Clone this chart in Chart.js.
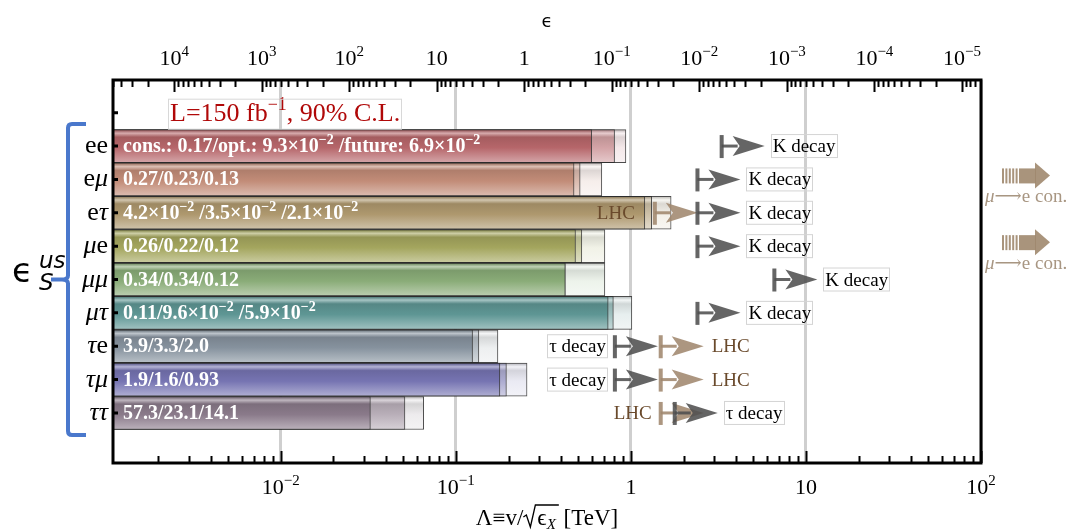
<!DOCTYPE html>
<html>
<head>
<meta charset="utf-8">
<script src="https://cdn.jsdelivr.net/npm/chart.js@4.4.1/dist/chart.umd.min.js"></script>
<style>
  html, body { margin: 0; padding: 0; background: #fff; }
  canvas { display: block; }
</style>
</head>
<body>
<canvas id="chart" width="1072" height="532"></canvas>
<script>
// electroweak vev in TeV, used for Lambda = v / sqrt(eps)
const V_EW = 0.246;

const categories = ['ee', 'eμ', 'eτ', 'μe', 'μμ', 'μτ', 'τe', 'τμ', 'ττ'];
// epsilon limits: conservative / optimistic / future
const consEps = [0.17, 0.27, 0.042, 0.26, 0.34, 0.11, 3.9, 1.9, 57.3];
const optEps = [0.093, 0.23, 0.035, 0.22, 0.34, 0.096, 3.3, 1.6, 23.1];
const futureEps = [0.069, 0.13, 0.021, 0.12, 0.12, 0.059, 2.0, 0.93, 14.1];

const rowColors = [
    [182, 102, 106], [194, 140, 120], [174, 152, 110], [164, 166, 94], [138, 172, 120],
    [94, 150, 148], [134, 146, 158], [118, 116, 178], [138, 122, 138]
];

// other limits (Lambda in TeV), one entry per arrow
const annRows = [1, 2, 3, 3, 4, 5, 6, 7, 7, 8, 8, 9, 9];
const annValues = [3.3, 2.4, 1.37, 2.4, 2.4, 6.6, 2.4, 0.81, 1.48, 0.81, 1.48, 1.48, 1.78];
const annTypes = ['K', 'K', 'LHC', 'K', 'K', 'K', 'K', 'tau', 'LHC', 'tau', 'LHC', 'LHC', 'tau'];
const annSides = ['right', 'right', 'left', 'right', 'right', 'right', 'right', 'left', 'right', 'left', 'right', 'left', 'right'];
const muToERows = [2, 4];

const xTicks = [0.01, 0.1, 1, 10, 100];
const xTickLabels = ['10^{−2}', '10^{−1}', '1', '10', '10^{2}'];
const epsTicks = [1e4, 1e3, 1e2, 10, 1, 0.1, 0.01, 1e-3, 1e-4, 1e-5];
const epsTickLabels = ['10^{4}', '10^{3}', '10^{2}', '10', '1', '10^{−1}', '10^{−2}', '10^{−3}', '10^{−4}', '10^{−5}'];

const X_MIN = 0.0011, X_MAX = 100;
const SERIF = "'Liberation Serif', 'DejaVu Serif', serif";

const toLambda = eps => V_EW / Math.sqrt(eps);

function mix(c, t) {
    return c.map(v => Math.round(v + (255 - v) * t));
}
function shade(c, f) {
    return c.map(v => Math.round(v * f));
}
function rgb(c) {
    return 'rgb(' + c.join(',') + ')';
}

function fmtEps(v) {
    if (v < 0.1) return (v * 100).toFixed(1) + '×10^{−2}';
    if (v >= 1) return v.toFixed(1);
    return v.toPrecision(2);
}

// vertical glossy gradient for one bar row
function barFill(kind) {
    return function (ctx) {
        const chart = ctx.chart;
        if (ctx.type !== 'data') return '#ccc';
        const i = ctx.dataIndex;
        let base = rowColors[i];
        if (kind === 'opt') base = mix(base, 0.4);
        if (kind === 'future') base = mix(base, 0.85);
        const ys = chart.scales.y;
        const py = ys ? ys.getPixelForValue(i + 1) : NaN;
        if (!isFinite(py)) return rgb(base);
        const g = chart.ctx.createLinearGradient(0, py - 16, 0, py + 16);
        g.addColorStop(0, rgb(shade(base, 0.8)));
        g.addColorStop(0.1, rgb(mix(base, 0.45)));
        g.addColorStop(0.22, rgb(shade(base, 0.9)));
        g.addColorStop(0.55, rgb(base));
        g.addColorStop(1, rgb(mix(base, 0.4)));
        return g;
    };
}

function makeData(arr) {
    return arr.map((e, i) => ({ x: [X_MIN, toLambda(e)], y: i + 1 }));
}

// text with ^{..} and _{..} pieces
function drawRich(ctx, str, x, y, o) {
    const parts = str.split(/(\^\{[^}]*\}|_\{[^}]*\})/).filter(s => s.length);
    const segs = parts.map(p => {
        if (p.startsWith('^{')) return { t: p.slice(2, -1), sc: 0.68, dy: -0.4 };
        if (p.startsWith('_{')) return { t: p.slice(2, -1), sc: 0.68, dy: 0.22 };
        return { t: p, sc: 1, dy: 0 };
    });
    const font = sc => (o.style || '') + ' ' + (o.weight || 'normal') + ' ' + Math.round(o.size * sc) + 'px ' + (o.family || SERIF);
    let w = 0;
    segs.forEach(s => { ctx.font = font(s.sc); s.w = ctx.measureText(s.t).width; w += s.w; });
    let cx = o.align === 'right' ? x - w : (o.align === 'center' ? x - w / 2 : x);
    const x0 = cx;
    ctx.textAlign = 'left';
    ctx.textBaseline = 'alphabetic';
    ctx.fillStyle = o.color || '#000';
    segs.forEach(s => { ctx.font = font(s.sc); ctx.fillText(s.t, cx, y + s.dy * o.size); cx += s.w; });
    return { x: x0, w: w };
}

function drawArrow(ctx, x, y, color) {
    ctx.save();
    ctx.fillStyle = color;
    ctx.strokeStyle = color;
    ctx.fillRect(x - 2, y - 11, 4, 23);
    ctx.lineWidth = 3;
    ctx.beginPath();
    ctx.moveTo(x, y);
    ctx.lineTo(x + 16, y);
    ctx.stroke();
    ctx.beginPath();
    ctx.moveTo(x + 43, y);
    ctx.lineTo(x + 11, y - 10);
    ctx.lineTo(x + 18, y);
    ctx.lineTo(x + 11, y + 10);
    ctx.closePath();
    ctx.fill();
    ctx.restore();
}

function boxedLabel(ctx, text, x, y, align, color, boxed) {
    const r = drawRich(ctx, text, x, y + 6, { size: 19, color: color, align: align });
    if (boxed) {
        ctx.save();
        ctx.strokeStyle = '#d4d4d4';
        ctx.lineWidth = 1;
        ctx.strokeRect(Math.round(r.x) - 1.5, y - 11.5, Math.round(r.w) + 3, 23);
        ctx.restore();
    }
}

const overlay = {
    id: 'overlay',
    afterDraw(chart) {
        const ctx = chart.ctx;
        const a = chart.chartArea;
        const xs = chart.scales.x, x2 = chart.scales.x2, ys = chart.scales.y;
        ctx.save();

        // bar labels
        categories.forEach((c, i) => {
            const py = ys.getPixelForValue(i + 1);
            let s;
            if (i === 0) s = 'cons.: ' + fmtEps(consEps[i]) + '/opt.: ' + fmtEps(optEps[i]) + '/future: ' + fmtEps(futureEps[i]);
            else s = fmtEps(consEps[i]) + '/' + fmtEps(optEps[i]) + '/' + fmtEps(futureEps[i]);
            s = s.replace(/\}\//g, '} /');
            drawRich(ctx, s, a.left + 10, py + 6, { size: 20, weight: 'bold', color: '#fff' });
        });

        // arrows for other limits
        annRows.forEach((r, k) => {
            const px = xs.getPixelForValue(annValues[k]);
            const py = ys.getPixelForValue(r);
            const isLHC = annTypes[k] === 'LHC';
            const col = isLHC ? 'rgba(160,136,110,0.88)' : 'rgba(80,80,80,0.88)';
            drawArrow(ctx, px, py, col);
            const text = annTypes[k] === 'K' ? 'K decay' : (isLHC ? 'LHC' : 'τ decay');
            const tcol = isLHC ? '#6a4a2c' : '#000';
            if (annSides[k] === 'right') {
                boxedLabel(ctx, text, px + 51, py, 'left', tcol, !isLHC);
            } else {
                boxedLabel(ctx, text, px - (isLHC && r === 3 ? 20 : 9), py, 'right', tcol, !isLHC);
            }
        });

        // mu -> e conversion arrows beyond the axis
        muToERows.forEach(r => {
            const py = ys.getPixelForValue(r) - 4;
            const x0 = a.right + 21;
            ctx.fillStyle = 'rgba(160,136,110,0.9)';
            for (let s = 0; s < 5; s++) ctx.fillRect(x0 + s * 3.4, py - 7, 2, 15);
            ctx.fillRect(x0 + 17, py - 7, 17, 15);
            ctx.beginPath();
            ctx.moveTo(x0 + 33, py - 13);
            ctx.lineTo(x0 + 48, py);
            ctx.lineTo(x0 + 33, py + 13);
            ctx.closePath();
            ctx.fill();
            ctx.fillStyle = '#a89682';
            ctx.textAlign = 'left';
            ctx.textBaseline = 'alphabetic';
            ctx.font = 'italic 19px ' + SERIF;
            ctx.fillText('μ', a.right + 4, py + 27);
            const mw = ctx.measureText('μ').width;
            ctx.font = '19px ' + SERIF;
            ctx.fillText('⟶e con.', a.right + 4 + mw, py + 27);
        });

        // luminosity note
        const lumY = ys.getPixelForValue(0);
        const lr = drawRich(ctx, 'L=150 fb^{−1}, 90% C.L.', a.left + 57, lumY + 8, { size: 26, color: '#b00808' });
        ctx.strokeStyle = '#d8d8d8';
        ctx.lineWidth = 1;
        ctx.strokeRect(Math.round(lr.x) - 1.5, lumY - 13.5, Math.round(lr.w) + 3, 30);

        // frame
        ctx.strokeStyle = '#000';
        ctx.lineWidth = 3;
        ctx.strokeRect(a.left, a.top, a.right - a.left, a.bottom - a.top);

        // bottom ticks
        ctx.lineWidth = 2;
        ctx.beginPath();
        for (let e = -3; e <= 2; e++) {
            for (let m = 1; m <= 9; m++) {
                const v = m * Math.pow(10, e);
                if (v < X_MIN || v > X_MAX) continue;
                const px = Math.round(xs.getPixelForValue(v)) + 0.5;
                const len = m === 1 ? 12 : 7;
                ctx.moveTo(px, a.bottom);
                ctx.lineTo(px, a.bottom - len);
            }
        }
        // top ticks (epsilon axis)
        for (let e = -6; e <= 5; e++) {
            for (let m = 1; m <= 9; m++) {
                const v = m * Math.pow(10, e);
                if (v < x2.min || v > x2.max) continue;
                const px = Math.round(x2.getPixelForValue(v)) + 0.5;
                const len = m === 1 ? 12 : 7;
                ctx.moveTo(px, a.top);
                ctx.lineTo(px, a.top + len);
            }
        }
        ctx.stroke();
        // left ticks
        ctx.lineWidth = 3;
        ctx.beginPath();
        for (let r = 0; r <= 9; r++) {
            const py = ys.getPixelForValue(r);
            ctx.moveTo(a.left, py);
            ctx.lineTo(a.left + 5, py);
        }
        ctx.stroke();

        // tick labels
        xTicks.forEach((v, k) => {
            drawRich(ctx, xTickLabels[k], xs.getPixelForValue(v), a.bottom + 31, { size: 22, align: 'center' });
        });
        epsTicks.forEach((v, k) => {
            drawRich(ctx, epsTickLabels[k], x2.getPixelForValue(v), a.top - 15, { size: 22, align: 'center' });
        });

        // category labels, greek letters italic
        categories.forEach((c, i) => {
            const py = ys.getPixelForValue(i + 1) + 7;
            const chars = Array.from(c);
            const fonts = chars.map(ch => (/[μτ]/.test(ch) ? 'italic ' : '') + '26px ' + SERIF);
            let w = 0;
            const ws = chars.map((ch, j) => { ctx.font = fonts[j]; const cw = ctx.measureText(ch).width; w += cw; return cw; });
            let cx = a.left - 5 - w;
            ctx.fillStyle = '#000';
            ctx.textAlign = 'left';
            chars.forEach((ch, j) => { ctx.font = fonts[j]; ctx.fillText(ch, cx, py); cx += ws[j]; });
        });

        // top axis title
        ctx.font = "18px 'DejaVu Sans', sans-serif";
        ctx.textAlign = 'center';
        ctx.fillStyle = '#000';
        ctx.fillText('ϵ', (a.left + a.right) / 2, 27);

        // bottom axis title: Λ≡v/√ϵX [TeV]
        const ty = 525;
        ctx.font = '23px ' + SERIF;
        const p1 = 'Λ≡v/', p3 = ' [TeV]';
        const w1 = ctx.measureText(p1).width, w3 = ctx.measureText(p3).width;
        const we = ctx.measureText('ϵ').width;
        ctx.font = 'italic 15px ' + SERIF;
        const wx = ctx.measureText('X').width;
        const radW = 14, total = w1 + radW + we + wx + 2 + w3;
        let tx = (a.left + a.right) / 2 - total / 2;
        ctx.textAlign = 'left';
        ctx.font = '23px ' + SERIF;
        ctx.fillText(p1, tx, ty);
        tx += w1;
        ctx.lineWidth = 1.3;
        ctx.strokeStyle = '#000';
        ctx.beginPath();
        ctx.moveTo(tx, ty - 8);
        ctx.lineTo(tx + 3, ty - 10);
        ctx.lineTo(tx + 7, ty + 2);
        ctx.lineTo(tx + 12, ty - 20);
        ctx.lineTo(tx + radW + we + wx + 3, ty - 20);
        ctx.stroke();
        tx += radW;
        ctx.fillText('ϵ', tx, ty);
        tx += we;
        ctx.font = 'italic 15px ' + SERIF;
        ctx.fillText('X', tx, ty + 4);
        tx += wx + 2;
        ctx.font = '23px ' + SERIF;
        ctx.fillText(p3, tx, ty);

        // left label and brace
        const top = ys.getPixelForValue(1) - 22, bot = ys.getPixelForValue(9) + 22, mid = (top + bot) / 2;
        ctx.strokeStyle = '#4a78cc';
        ctx.lineWidth = 4;
        ctx.lineJoin = 'round';
        ctx.beginPath();
        ctx.moveTo(86, top);
        ctx.lineTo(72, top);
        ctx.quadraticCurveTo(68, top, 68, top + 4);
        ctx.lineTo(68, mid - 4);
        ctx.quadraticCurveTo(68, mid, 62, mid);
        ctx.lineTo(51, mid);
        ctx.moveTo(62, mid);
        ctx.quadraticCurveTo(68, mid, 68, mid + 4);
        ctx.lineTo(68, bot - 4);
        ctx.quadraticCurveTo(68, bot, 72, bot);
        ctx.lineTo(86, bot);
        ctx.stroke();

        ctx.fillStyle = '#000';
        ctx.textAlign = 'left';
        ctx.font = "34px 'DejaVu Sans', sans-serif";
        ctx.fillText('ϵ', 12, mid + 2);
        ctx.font = "italic 23px 'DejaVu Sans', sans-serif";
        ctx.fillText('us', 39, mid - 12);
        ctx.fillText('S', 39, mid + 10);

        ctx.restore();
    }
};

const epsMin = Math.pow(V_EW / X_MAX, 2);
const epsMax = Math.pow(V_EW / X_MIN, 2);

new Chart(document.getElementById('chart').getContext('2d'), {
    type: 'bar',
    data: {
        datasets: [
            { label: 'cons.', data: makeData(consEps), backgroundColor: barFill('cons') },
            { label: 'opt.', data: makeData(optEps), backgroundColor: barFill('opt') },
            { label: 'future', data: makeData(futureEps), backgroundColor: barFill('future') }
        ]
    },
    options: {
        indexAxis: 'y',
        responsive: false,
        animation: false,
        grouped: false,
        barThickness: 33,
        borderWidth: 1,
        borderColor: 'rgba(45,45,45,0.85)',
        borderSkipped: 'start',
        layout: { padding: { left: 0, right: 91, top: 0, bottom: 0 } },
        plugins: { legend: { display: false }, tooltip: { enabled: false } },
        scales: {
            x: {
                type: 'logarithmic', position: 'bottom', min: X_MIN, max: X_MAX, bounds: 'data',
                grid: { color: '#cfcfcf', lineWidth: 3, drawTicks: false },
                border: { display: false },
                ticks: { display: false },
                afterBuildTicks: s => { s.ticks = xTicks.map(v => ({ value: v })); },
                afterFit: s => { s.height = 69; }
            },
            x2: {
                type: 'logarithmic', position: 'top', reverse: true, min: epsMin, max: epsMax, bounds: 'data',
                grid: { display: false },
                border: { display: false },
                ticks: { display: false },
                afterBuildTicks: s => { s.ticks = epsTicks.map(v => ({ value: v })); },
                afterFit: s => { s.height = 80; }
            },
            y: {
                type: 'linear', reverse: true, min: -0.98, max: 10.5, bounds: 'data', offset: false,
                grid: { display: false, offset: false },
                border: { display: false },
                ticks: { display: false },
                afterFit: s => { s.width = 113; }
            }
        }
    },
    plugins: [overlay]
});
</script>
</body>
</html>
